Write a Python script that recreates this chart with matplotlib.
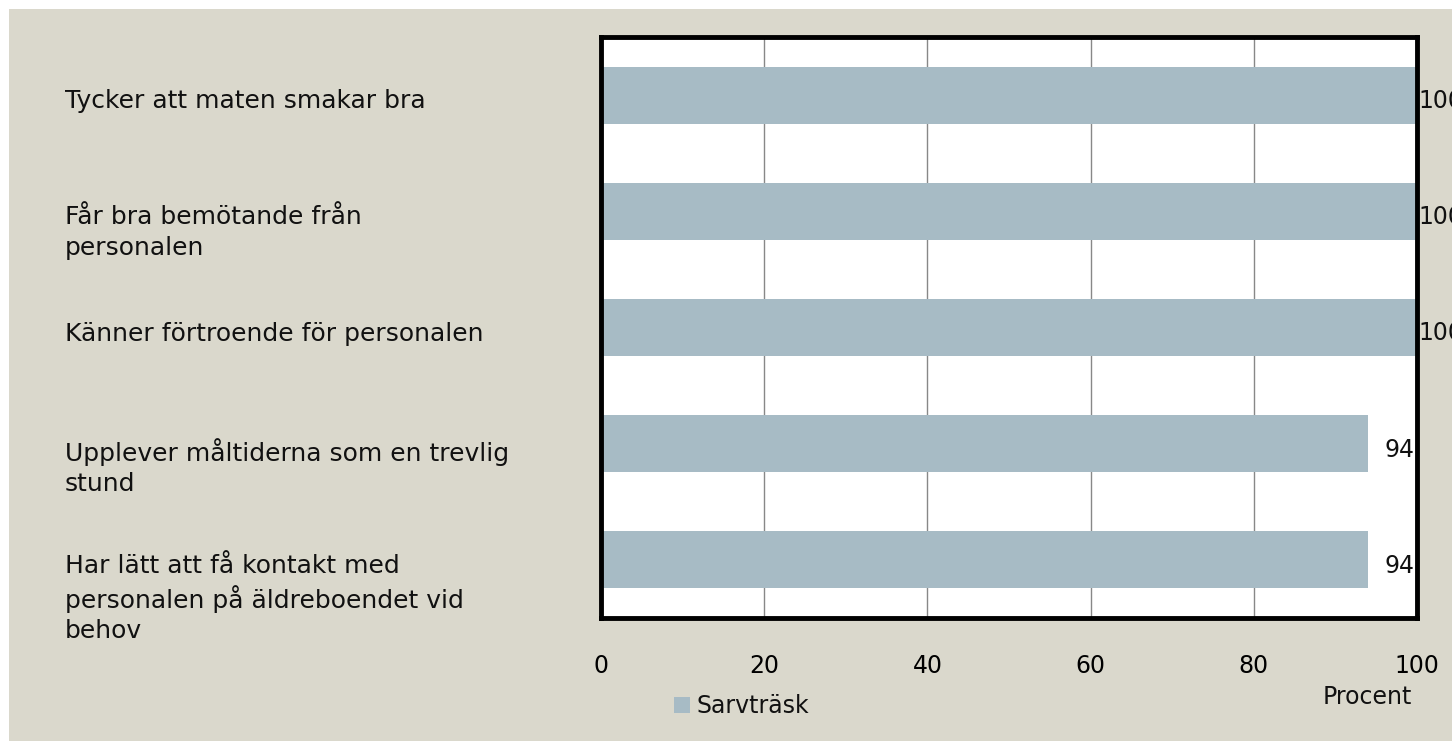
import matplotlib
matplotlib.use("Agg")
import matplotlib.pyplot as plt
from matplotlib.patches import Rectangle
from matplotlib.transforms import blended_transform_factory

# data
categories = [
    "Tycker att maten smakar bra",
    "Får bra bemötande från\npersonalen",
    "Känner förtroende för personalen",
    "Upplever måltiderna som en trevlig\nstund",
    "Har lätt att få kontakt med\npersonalen på äldreboendet vid\nbehov",
]
values = [100, 100, 100, 94, 94]
series_name = "Sarvträsk"
xticks = [0, 20, 40, 60, 80, 100]

bar_color = "#A7BBC5"
bg = "#DAD8CC"
fsize = 17

plt.rcParams['font.family'] = ['DejaVu Sans']

W, H = 1452, 741
fig = plt.figure(figsize=(W / 100, H / 100), dpi=100)
fig.patch.set_facecolor("white")
# beige chart area with a thin white border at top/left
fig.patches.append(Rectangle((9 / W, 0), 1 - 9 / W, 1 - 9 / H,
                             transform=fig.transFigure, facecolor=bg,
                             edgecolor="none", zorder=-10))

ax = fig.add_axes([601 / W, 1 - 618 / H, (1417 - 601) / W, (618 - 37) / H])
ax.set_facecolor("white")

ypos = list(range(len(categories)))
ax.barh(ypos, values, height=0.49, color=bar_color, zorder=2)
ax.set_ylim(len(categories) - 0.5, -0.5)
ax.set_xlim(0, 100)

ax.set_xticks(xticks)
ax.set_xticklabels([str(t) for t in xticks], fontsize=fsize)
ax.tick_params(axis='x', length=0, pad=26)
ax.set_yticks([])
ax.grid(axis='x', color="#888888", linewidth=1, zorder=1)
for s in ax.spines.values():
    s.set_linewidth(3.5)
    s.set_color("black")
    s.set_zorder(5)

# category labels, left aligned in the margin
trans = blended_transform_factory(fig.transFigure, ax.transData)
for y, lab in zip(ypos, categories):
    ax.text(65 / W, y - 0.05, lab, transform=trans, ha='left', va='top',
            fontsize=fsize + 1, linespacing=1.32, color="#111111", clip_on=False)

# value labels
for y, v in zip(ypos, values):
    x = v + 2 if v < 100 else v + 0.2
    ax.text(x, y + 0.05, str(v), ha='left', va='center', fontsize=fsize,
            color="#111111", clip_on=False, zorder=6)

# legend and axis title
fig.patches.append(Rectangle((674 / W, 1 - 713 / H), 16 / W, 16 / H,
                             transform=fig.transFigure, facecolor=bar_color,
                             edgecolor="none", zorder=3))
fig.text(696 / W, 1 - 706 / H, series_name, ha='left', va='center',
         fontsize=fsize, color="#111111")
fig.text(1412 / W, 1 - 697 / H, "Procent", ha='right', va='center',
         fontsize=fsize, color="#111111")

fig.savefig("out.png", dpi=100, facecolor=fig.get_facecolor())
